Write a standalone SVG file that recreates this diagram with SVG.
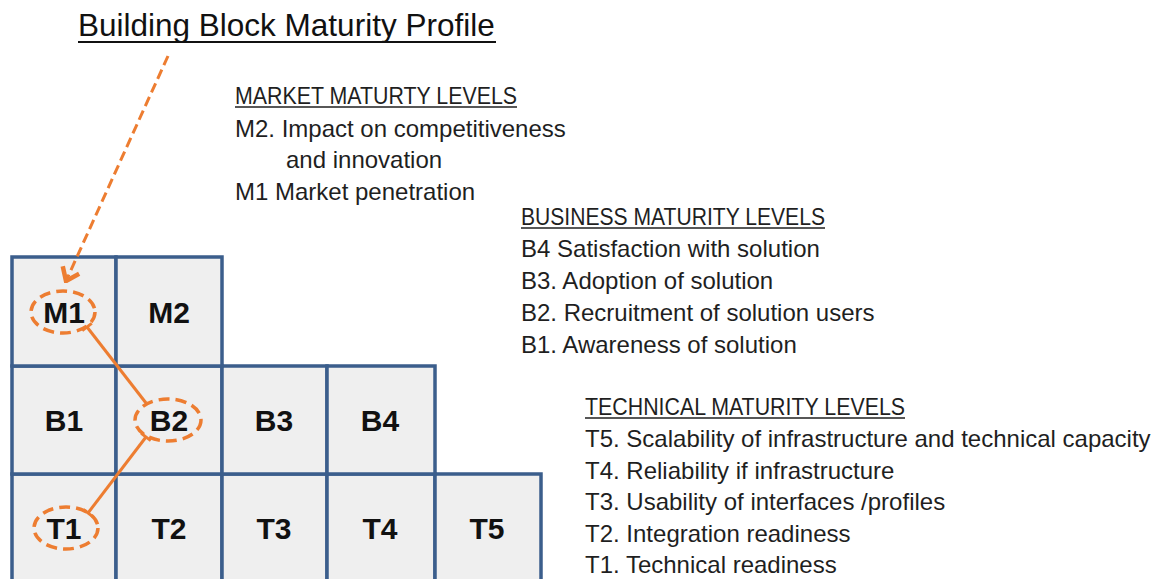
<svg xmlns="http://www.w3.org/2000/svg" width="1157" height="579" viewBox="0 0 1157 579">
<style>
.cell{fill:#EFEFEF;stroke:#3B5E8C;stroke-width:3.5}
.lbl{font-family:"Liberation Sans",Arial,sans-serif;font-weight:bold;font-size:30px;fill:#111;text-anchor:middle}
.txt{font-family:"Liberation Sans",Arial,sans-serif;font-size:24px;fill:#1F1F1F}
.ul{stroke:#1F1F1F;stroke-width:1.5}
.hl{fill:none;stroke:#ED7D31;stroke-width:3.5;stroke-dasharray:11 6}
.conn{fill:none;stroke:#ED7D31;stroke-width:3}
</style>
<defs>
<marker id="tee" viewBox="-2 -7 4 14" markerWidth="4" markerHeight="14" markerUnits="userSpaceOnUse" orient="auto">
<path d="M0,-6 L0,6" stroke="#ED7D31" stroke-width="3"/>
</marker>
<marker id="chev" viewBox="-16 -12 18 24" markerWidth="18" markerHeight="24" markerUnits="userSpaceOnUse" refX="0" refY="0" orient="auto">
<path d="M-12,-9 L0,0 L-12,9" fill="none" stroke="#ED7D31" stroke-width="4.5"/>
</marker>
</defs>
<rect width="1157" height="579" fill="#FFFFFF"/>

<g id="title">
<text class="txt" x="78" y="36" style="font-size:31.5px;fill:#111">Building Block Maturity Profile</text>
<line x1="78" y1="42" x2="496" y2="42" stroke="#111" stroke-width="2.2"/>
</g>

<g id="market-levels">
<text class="txt" x="235" y="104" textLength="282" lengthAdjust="spacingAndGlyphs">MARKET MATURTY LEVELS</text>
<line class="ul" x1="235" y1="107" x2="517" y2="107"/>
<text class="txt" x="235" y="137">M2. Impact on competitiveness</text>
<text class="txt" x="286" y="168">and innovation</text>
<text class="txt" x="235" y="200">M1 Market penetration</text>
</g>

<g id="business-levels">
<text class="txt" x="521" y="225" textLength="304" lengthAdjust="spacingAndGlyphs">BUSINESS MATURITY LEVELS</text>
<line class="ul" x1="521" y1="228" x2="825" y2="228"/>
<text class="txt" x="521" y="257">B4 Satisfaction with solution</text>
<text class="txt" x="521" y="289">B3. Adoption of solution</text>
<text class="txt" x="521" y="321">B2. Recruitment of solution users</text>
<text class="txt" x="521" y="353">B1. Awareness of solution</text>
</g>

<g id="technical-levels">
<text class="txt" x="585" y="415" textLength="320" lengthAdjust="spacingAndGlyphs">TECHNICAL MATURITY LEVELS</text>
<line class="ul" x1="585" y1="418" x2="905" y2="418"/>
<text class="txt" x="585" y="447">T5. Scalability  of infrastructure and technical capacity</text>
<text class="txt" x="585" y="479">T4. Reliability  if infrastructure</text>
<text class="txt" x="585" y="510">T3. Usability of interfaces /profiles</text>
<text class="txt" x="585" y="542">T2. Integration readiness</text>
<text class="txt" x="585" y="573">T1. Technical readiness</text>
</g>

<g id="cell-T1"><rect class="cell" x="12" y="474" width="104" height="120"/><text class="lbl" x="64" y="539">T1</text></g>
<g id="cell-T2"><rect class="cell" x="116" y="474" width="106" height="120"/><text class="lbl" x="169" y="539">T2</text></g>
<g id="cell-T3"><rect class="cell" x="222" y="474" width="105" height="120"/><text class="lbl" x="274" y="539">T3</text></g>
<g id="cell-T4"><rect class="cell" x="327" y="474" width="108" height="120"/><text class="lbl" x="380" y="539">T4</text></g>
<g id="cell-T5"><rect class="cell" x="435" y="474" width="106" height="120"/><text class="lbl" x="487" y="539">T5</text></g>

<g id="cell-B1"><rect class="cell" x="12" y="366" width="104" height="108"/><text class="lbl" x="64" y="431">B1</text></g>
<g id="cell-B2"><rect class="cell" x="116" y="366" width="106" height="108"/><text class="lbl" x="169" y="431">B2</text></g>
<g id="cell-B3"><rect class="cell" x="222" y="366" width="105" height="108"/><text class="lbl" x="274" y="431">B3</text></g>
<g id="cell-B4"><rect class="cell" x="327" y="366" width="108" height="108"/><text class="lbl" x="380" y="431">B4</text></g>

<g id="cell-M1"><rect class="cell" x="12" y="257" width="104" height="109"/><text class="lbl" x="64" y="323">M1</text></g>
<g id="cell-M2"><rect class="cell" x="116" y="257" width="106" height="109"/><text class="lbl" x="169" y="323">M2</text></g>

<g id="connectors">
<ellipse class="hl" cx="63" cy="312" rx="32" ry="21"/>
<ellipse class="hl" cx="168" cy="420" rx="33" ry="21"/>
<ellipse class="hl" cx="66" cy="528" rx="32" ry="21"/>
<line class="conn" x1="87" y1="327" x2="146" y2="403" marker-start="url(#tee)"/>
<line class="conn" x1="146" y1="437" x2="88" y2="513" marker-start="url(#tee)" marker-end="url(#tee)"/>
<line class="conn" x1="168" y1="56" x2="66" y2="281" stroke-width="4.5" stroke-dasharray="10 5" marker-end="url(#chev)"/>
</g>
</svg>
